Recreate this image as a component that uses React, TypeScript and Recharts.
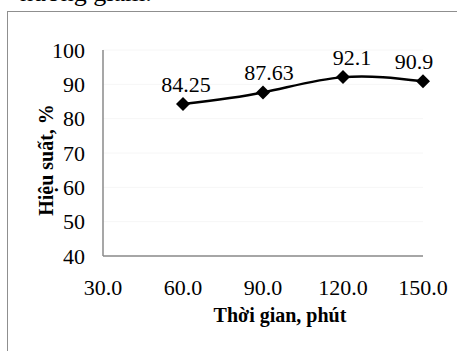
import { LineChart, Line, XAxis, YAxis, CartesianGrid, LabelList, Label } from 'recharts'

const times = [60, 90, 120, 150]
const efficiency = [84.25, 87.63, 92.1, 90.9]
const xTicks = [30, 60, 90, 120, 150]
const yTicks = [40, 50, 60, 70, 80, 90, 100]

const data = times.map((t, i) => ({ t, v: efficiency[i] }))

// Excel nudges some labels sideways
const labelDx = [3, 6, 9, -9]

const FONT = '"Liberation Serif", "Times New Roman", serif'
const AXIS = '#8a8a8a'

function Diamond(props: any) {
  const { cx, cy, index } = props
  if (cx == null || cy == null) return <g key={index} />
  const r = 7
  return (
    <path
      key={index}
      d={`M${cx},${cy - r}L${cx + r},${cy}L${cx},${cy + r}L${cx - r},${cy}Z`}
      fill="#000"
    />
  )
}

function PointLabel(props: any) {
  const { x, y, value, index } = props
  return (
    <text
      x={x + labelDx[index]}
      y={y - 12}
      textAnchor="middle"
      style={{ fontFamily: FONT, fontSize: 22 }}
      fill="#000"
    >
      {value}
    </text>
  )
}

function YTitle(props: any) {
  const { viewBox } = props
  const cx = 46
  const cy = viewBox.y + viewBox.height / 2 + 7
  return (
    <text
      x={cx}
      y={cy}
      transform={`rotate(-90 ${cx} ${cy})`}
      textAnchor="middle"
      dominantBaseline="central"
      style={{ fontFamily: FONT, fontWeight: 'bold', fontSize: 20 }}
      fill="#000"
    >
      Hiệu suất, %
    </text>
  )
}

export default function App() {
  return (
    <div style={{ position: 'relative', width: 457, height: 351, overflow: 'hidden', background: '#fff', fontFamily: FONT }}>
      <style>{`body{margin:0} svg text{font-family:${FONT}}`}</style>
      <div
        style={{
          position: 'absolute', left: 20, top: -20, fontFamily: FONT, fontSize: 26,
          lineHeight: '26px', color: '#000', whiteSpace: 'nowrap',
        }}
      >
        hướng giảm.
      </div>
      <div
        style={{
          position: 'absolute', left: 7, top: 11, width: 470, height: 360,
          border: '1px solid #8f8f8f', boxSizing: 'border-box',
        }}
      />
      <div style={{ position: 'absolute', left: 0, top: 0 }}>
        <LineChart
          width={457}
          height={351}
          data={data}
          margin={{ top: 50, right: 34, left: 0, bottom: 0 }}
          style={{ fontFamily: FONT }}
        >
          <CartesianGrid horizontal vertical={false} stroke="#f6f6f6" />
          <XAxis
            dataKey="t"
            type="number"
            domain={[30, 150]}
            ticks={xTicks}
            tickFormatter={(v: number) => v.toFixed(1)}
            height={95}
            tickLine={false}
            tickSize={0}
            tickMargin={23}
            axisLine={{ stroke: AXIS, strokeWidth: 1.5 }}
            tick={{ fill: '#000', fontSize: 22, style: { fontFamily: FONT } }}
          >
            <Label
              value="Thời gian, phút"
              position="insideBottom"
              offset={29}
              dx={17}
              style={{ fontFamily: FONT, fontWeight: 'bold', fontSize: 20, fill: '#000' }}
            />
          </XAxis>
          <YAxis
            domain={[40, 100]}
            ticks={yTicks}
            width={103}
            tickLine={false}
            tickSize={0}
            tickMargin={18}
            axisLine={{ stroke: AXIS, strokeWidth: 1.5 }}
            tick={{ fill: '#000', fontSize: 22, style: { fontFamily: FONT } }}
          >
            <Label content={YTitle} />
          </YAxis>
          <Line
            type="natural"
            dataKey="v"
            stroke="#000"
            strokeWidth={2.5}
            dot={Diamond}
            activeDot={false}
            isAnimationActive={false}
          >
            <LabelList dataKey="v" content={PointLabel} />
          </Line>
        </LineChart>
      </div>
    </div>
  )
}
